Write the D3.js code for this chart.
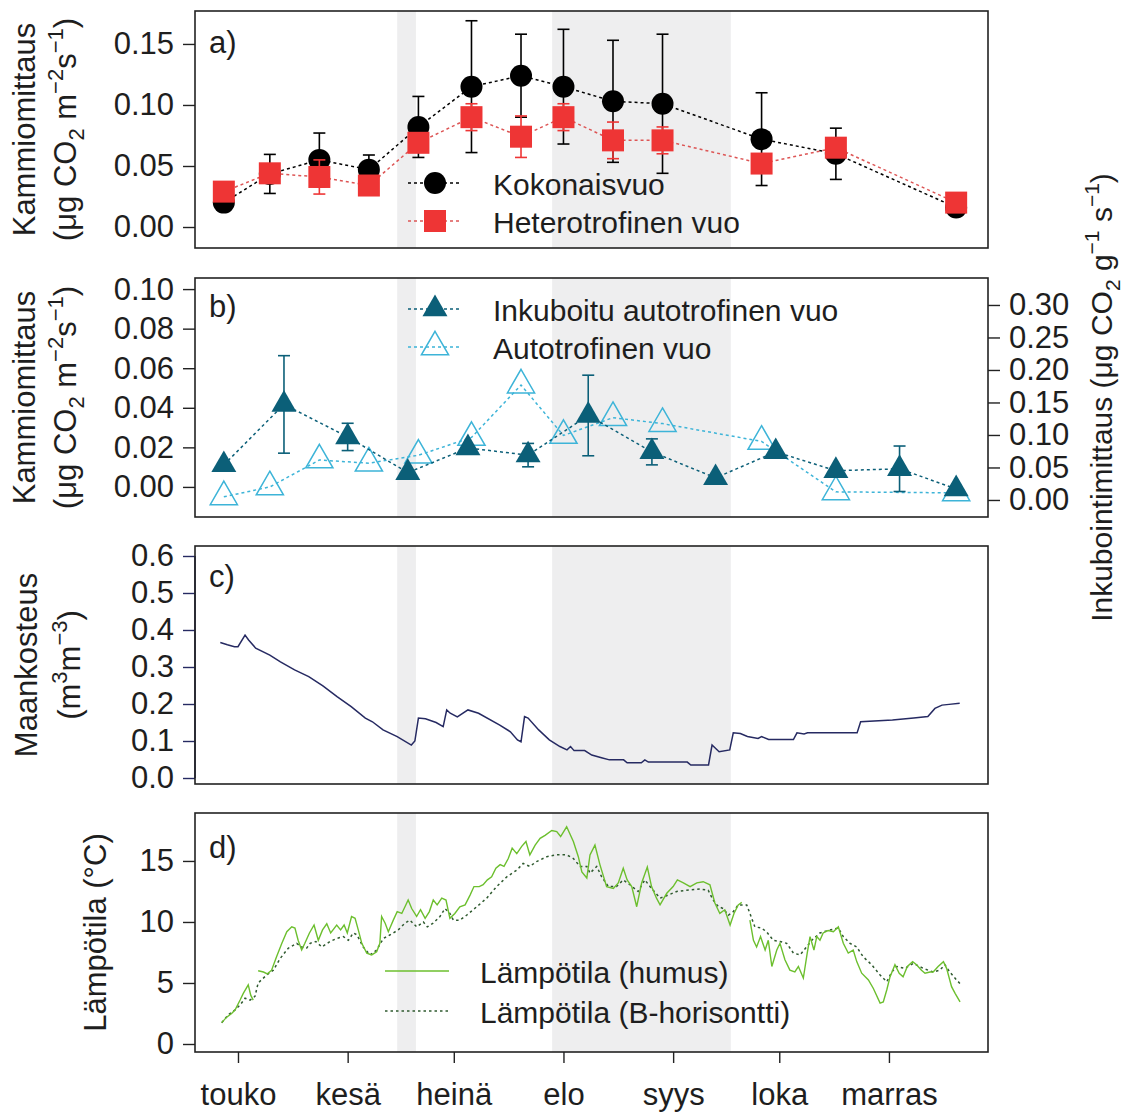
<!DOCTYPE html>
<html>
<head>
    <meta charset="utf-8">
    <title>Maaperän CO2-vuot, kosteus ja lämpötila</title>
    <script src="https://cdnjs.cloudflare.com/ajax/libs/d3/7.8.5/d3.min.js"></script>
    <style>
    body{ margin:0; background:#fff; }
    svg text{ font-family:"Liberation Sans", Arial, sans-serif; fill:#1e1e1e; }
    </style>
</head>
<body>
    <svg id="chart" width="1129" height="1113"></svg>
    <script>
        // all x values are day of year
        var monthDays = [121, 152, 182, 213, 244, 274, 305];
        var monthLabels = ["touko", "kesä", "heinä", "elo", "syys", "loka", "marras"];
        var shadeDays = [[166, 171.3], [209.8, 260.3]];

        // a) chamber fluxes
        var chamberDays = [117, 130, 144, 158, 172, 187, 201, 213, 227, 241, 269, 290, 324];
        var totalFlux = [0.020, 0.0435, 0.055, 0.047, 0.082, 0.115, 0.124, 0.115, 0.103, 0.101, 0.072, 0.060, 0.016];
        var totalErr  = [0, 0.016, 0.022, 0.012, 0.025, 0.054, 0.034, 0.047, 0.050, 0.057, 0.038, 0.021, 0];
        var hetFlux   = [0.029, 0.044, 0.041, 0.034, 0.069, 0.090, 0.074, 0.090, 0.071, 0.071, 0.052, 0.065, 0.020];
        var hetErr    = [0, 0, 0.014, 0, 0, 0.011, 0.017, 0.011, 0.015, 0.011, 0, 0, 0];

        // b) autotrophic fluxes (chamber on left axis, incubation on right axis)
        var autoFlux = [-0.005, 0.000, 0.0136, 0.012, 0.016, 0.025, 0.0515, 0.026, 0.035, 0.032, 0.023, -0.0025, -0.003];
        var incDays = [117, 134, 152, 169, 186, 203, 220, 238, 256, 273, 290, 308, 324];
        var incFlux = [0.054, 0.147, 0.097, 0.042, 0.080, 0.069, 0.130, 0.074, 0.034, 0.074, 0.045, 0.048, 0.017];
        var incErr  = [0, 0.075, 0.021, 0, 0, 0.018, 0.062, 0.020, 0, 0, 0, 0.035, 0];

        // c) soil moisture [day, m3/m3]
        var moisture = [[116,0.366],[118,0.360],[120,0.355],[121,0.355],[123,0.386],[124,0.373],[126,0.351],
            [130,0.332],[133,0.314],[137,0.292],[141,0.274],[145,0.249],[149,0.220],[153,0.193],[157,0.162],
            [159,0.152],[162,0.130],[166,0.112],[170,0.089],[171,0.100],[172,0.162],[174,0.160],[177,0.150],
            [179,0.139],[180,0.184],[181,0.175],[183,0.165],[186,0.184],[189,0.175],[195,0.143],[198,0.125],
            [200,0.103],[201,0.098],[202,0.166],[203,0.162],[206,0.130],[209,0.103],[212,0.085],[214,0.076],
            [215,0.085],[216,0.074],[219,0.074],[221,0.062],[224,0.054],[226,0.049],[230,0.049],[231,0.041],
            [235,0.041],[236,0.049],[237,0.043],[248,0.043],[249,0.035],[254,0.035],[255,0.089],[257,0.071],
            [260,0.076],[261,0.122],[263,0.120],[265,0.112],[268,0.107],[269,0.112],[271,0.104],[278,0.104],
            [279,0.122],[281,0.119],[282,0.122],[296,0.122],[297,0.152],[306,0.157],[312,0.162],[316,0.166],
            [318,0.188],[320,0.197],[322,0.199],[325,0.202]];

        // d) soil temperature [day, °C], null = gap
        var tempHumus = [[116.4,1.75],[117.8,2.2],[119.2,2.5],[120.2,2.8],[121.6,3.6],[122.5,4.15],[123.9,4.85],
            [124.6,4.0],[125.3,3.6],null,[126.7,6.0],[128.2,5.9],[129.3,5.75],[130.5,6.05],[131.9,7.15],
            [133.4,8.25],[134.8,9.2],[136.2,9.6],[137.1,9.5],[138.0,8.5],[139.0,7.7],[139.9,8.25],[141.2,9.1],
            [142.5,9.75],[143.7,8.5],[144.9,9.35],[146.1,9.85],[147.2,9.1],[148.9,9.75],[150.0,9.35],
            [151.0,9.75],[151.9,9.1],[153.1,10.45],[154.1,10.3],[155.0,9.35],[156.0,8.25],[157.4,7.45],
            [158.8,7.3],[160.2,7.55],[161.1,8.25],[161.6,10.45],[162.6,9.9],[163.5,9.2],[164.9,10.15],
            [166.0,10.85],[167.3,10.7],[168.2,11.25],[169.1,11.8],[170.1,11.1],[171.5,10.45],[172.6,11.0],
            [173.9,10.3],[175.1,10.85],[176.2,11.8],[177.3,11.4],[178.6,11.95],[179.8,11.8],[180.9,10.3],
            [182.3,10.7],[183.7,11.25],[185.2,11.4],[186.6,12.2],[187.7,12.9],[189.2,12.9],[190.3,13.05],
            [191.5,13.45],[192.7,13.7],[193.9,14.4],[195.1,14.7],[196.2,14.55],[197.4,15.2],[198.5,16.05],
            [199.8,15.6],[201.2,16.2],[202.4,16.6],[203.5,15.5],[205.0,16.3],[206.4,16.85],[207.8,17.1],
            [209.7,17.5],[211.1,17.4],[212.2,17.0],[213.9,17.8],[215.8,16.6],[217.2,15.35],[218.2,14.1],
            [219.6,13.6],[220.5,15.5],[221.9,16.3],[223.3,14.7],[225.2,12.9],[227.1,12.75],[228.5,13.2],
            [229.9,14.4],[231.0,13.45],[232.3,12.9],[233.7,11.25],[235.1,13.2],[236.7,14.5],[237.9,12.9],
            [239.3,11.95],[240.3,11.4],[242.2,12.35],[244.0,12.9],[245.2,13.45],[246.9,13.2],[248.8,12.9],
            [250.7,13.2],[252.5,13.3],[254.4,13.05],[255.8,11.55],[257.2,10.7],[258.6,11.0],[260.1,9.75],
            [261.2,10.7],[262.4,11.4],[263.4,11.6],null,[265.7,10.15],[266.7,8.5],[267.6,7.95],[268.7,8.8],
            [270.0,7.7],[270.9,8.5],[271.9,6.35],[273.3,7.7],[274.2,8.25],[275.6,6.9],[277.0,6.05],[278.4,5.9],
            [279.4,6.35],[280.8,5.4],[281.9,7.45],[282.7,8.8],[283.8,7.7],[284.6,8.8],[285.5,8.5],[286.4,9.1],
            [287.8,9.3],[289.3,9.2],[290.7,9.6],[292.1,8.25],[293.5,7.45],[294.9,7.7],[295.9,6.75],[297.3,5.8],
            [299.2,5.25],[300.6,4.55],[302.5,3.35],[303.4,3.45],[304.4,4.45],[305.3,5.5],[306.7,6.5],
            [307.9,5.8],[309.0,5.5],[310.2,6.35],[311.7,6.75],[312.8,6.5],[314.2,6.05],[315.2,5.8],[316.6,5.9],
            [317.5,5.9],[318.9,6.35],[320.4,6.75],[321.3,6.2],[322.7,4.7],[323.7,4.15],[325.1,3.45]];
        var tempB = [[116.4,1.75],[118.3,2.4],[120.2,2.8],[121.6,3.2],[123.0,3.75],[124.4,3.6],[125.8,3.9],
            [126.7,5.0],[129.1,5.65],[131.0,6.05],[132.9,7.0],[135.2,7.85],[137.6,8.25],[139.0,7.95],
            [140.4,7.85],[141.4,8.25],[143.0,8.4],[144.7,7.95],[147.0,8.4],[148.9,8.65],[150.8,8.8],[152.2,8.5],
            [153.6,9.1],[154.6,8.95],[156.4,7.95],[158.3,7.3],[160.2,7.7],[162.1,8.65],[164.0,8.95],
            [166.3,9.35],[168.2,9.9],[169.6,10.15],[171.5,9.6],[173.4,10.0],[174.5,9.6],[176.2,9.9],
            [178.1,10.45],[179.5,11.1],[180.9,10.7],[181.9,10.15],[183.7,10.15],[185.6,10.55],[188.5,11.25],
            [191.3,11.95],[194.1,12.9],[197.0,13.7],[199.8,14.25],[201.6,14.8],[203.5,14.55],[205.4,14.95],
            [208.3,15.35],[211.1,15.5],[213.9,15.5],[215.8,15.2],[217.7,14.55],[219.6,14.55],[220.5,14.0],
            [222.4,14.55],[223.8,13.7],[225.7,12.9],[228.0,12.9],[229.9,13.45],[231.8,13.05],[234.1,12.5],
            [236.0,13.45],[237.9,12.75],[240.3,11.95],[242.6,12.2],[245.0,12.5],[247.8,12.6],[251.6,12.7],
            [253.9,12.6],[255.3,11.8],[256.8,11.25],[258.2,11.1],[259.6,10.55],[261.0,10.85],[262.4,11.4],
            [264.8,11.4],[265.7,10.7],[267.1,9.6],[269.0,9.5],[270.4,9.2],[272.3,8.5],[274.2,8.4],[276.1,8.25],
            [278.0,7.45],[279.9,7.3],[281.7,7.95],[283.2,8.5],[285.5,9.1],[287.8,9.3],[290.7,9.5],[292.1,8.8],
            [294.0,8.25],[295.9,7.95],[297.7,7.15],[300.1,6.5],[302.5,5.65],[304.4,5.1],[305.8,5.9],
            [307.2,6.35],[309.5,6.2],[311.9,6.6],[314.7,6.2],[317.5,5.9],[319.4,6.05],[320.8,6.5],[322.2,5.9],
            [324.1,5.25],[325.1,4.95]];

        var col = {
            total: "#000000", het: "#ee3535", hetLine: "#dd5555",
            inc: "#0b5f78", auto: "#3db4d8",
            moist: "#262a62", humus: "#6cbf2e", bhor: "#2f5a2f",
            shade: "#eeeeef", text: "#1e1e1e"
        };

        var svg = d3.select("#chart");
        svg.append("rect").attr("width", 1129).attr("height", 1113).attr("fill", "#fff");

        var L = 195, R = 988;
        var x = d3.scaleLinear().domain([108.85, 333]).range([L, R]);

        var panels = [
            {key: "a", top: 11,  bottom: 248,  dom: [-0.0172, 0.177],  ticks: [0, 0.05, 0.10, 0.15], fmt: ".2f", labY: 42},
            {key: "b", top: 278, bottom: 517,  dom: [-0.0152, 0.1056], ticks: [0, 0.02, 0.04, 0.06, 0.08, 0.10], fmt: ".2f", labY: 39},
            {key: "c", top: 546, bottom: 784,  dom: [-0.0162, 0.627],  ticks: [0, 0.1, 0.2, 0.3, 0.4, 0.5, 0.6], fmt: ".1f", labY: 41},
            {key: "d", top: 813, bottom: 1052, dom: [-0.656, 18.93],   ticks: [0, 5, 10, 15], fmt: "d", labY: 45}
        ];
        panels.forEach(function(p){
            p.y = d3.scaleLinear().domain(p.dom).range([p.bottom, p.top]);
        });
        var yInc = d3.scaleLinear().domain([-0.0262, 0.3415]).range([517, 278]);

        // shaded periods
        panels.forEach(function(p){
            svg.selectAll(null).data(shadeDays).enter().append("rect")
                .attr("x", function(d){ return x(d[0]); })
                .attr("width", function(d){ return x(d[1]) - x(d[0]); })
                .attr("y", p.top).attr("height", p.bottom - p.top)
                .attr("fill", col.shade);
        });

        function dashedLine(g, xs, ys, yscale, color){
            var pts = xs.map(function(d, i){ return [x(d), yscale(ys[i])]; });
            g.append("path").attr("d", d3.line()(pts))
                .attr("fill", "none").attr("stroke", color)
                .attr("stroke-width", 1.5).attr("stroke-dasharray", "3,3");
        }
        function errBars(g, xs, ys, es, yscale, color){
            xs.forEach(function(d, i){
                if(!es[i]) return;
                var cx = x(d), y1 = yscale(ys[i] - es[i]), y2 = yscale(ys[i] + es[i]);
                g.append("line").attr("x1", cx).attr("x2", cx).attr("y1", y1).attr("y2", y2)
                    .attr("stroke", color).attr("stroke-width", 1.6);
                [y1, y2].forEach(function(yy){
                    g.append("line").attr("x1", cx - 6).attr("x2", cx + 6).attr("y1", yy).attr("y2", yy)
                        .attr("stroke", color).attr("stroke-width", 1.6);
                });
            });
        }

        var triFill = d3.symbol().type(d3.symbolTriangle).size(270);
        var triOpen = d3.symbol().type(d3.symbolTriangle).size(320);

        // ---- a) ----
        var pa = panels[0], ga = svg.append("g");
        dashedLine(ga, chamberDays, totalFlux, pa.y, col.total);
        errBars(ga, chamberDays, totalFlux, totalErr, pa.y, col.total);
        ga.selectAll("circle.tot").data(chamberDays).enter().append("circle")
            .attr("cx", function(d){ return x(d); })
            .attr("cy", function(d, i){ return pa.y(totalFlux[i]); })
            .attr("r", 11).attr("fill", col.total);
        dashedLine(ga, chamberDays, hetFlux, pa.y, col.hetLine);
        errBars(ga, chamberDays, hetFlux, hetErr, pa.y, col.het);
        ga.selectAll("rect.het").data(chamberDays).enter().append("rect")
            .attr("x", function(d){ return x(d) - 11; })
            .attr("y", function(d, i){ return pa.y(hetFlux[i]) - 11; })
            .attr("width", 22).attr("height", 22).attr("fill", col.het);

        // ---- b) ----
        var pb = panels[1], gb = svg.append("g");
        dashedLine(gb, chamberDays, autoFlux, pb.y, col.auto);
        gb.selectAll("path.auto").data(chamberDays).enter().append("path")
            .attr("d", triOpen)
            .attr("transform", function(d, i){ return "translate(" + x(d) + "," + pb.y(autoFlux[i]) + ")"; })
            .attr("fill", "none").attr("stroke", col.auto).attr("stroke-width", 1.5);
        dashedLine(gb, incDays, incFlux, yInc, col.inc);
        errBars(gb, incDays, incFlux, incErr, yInc, col.inc);
        gb.selectAll("path.inc").data(incDays).enter().append("path")
            .attr("d", triFill)
            .attr("transform", function(d, i){ return "translate(" + x(d) + "," + yInc(incFlux[i]) + ")"; })
            .attr("fill", col.inc);

        // ---- c) ----
        var pc = panels[2];
        svg.append("path")
            .attr("d", d3.line().x(function(d){ return x(d[0]); }).y(function(d){ return pc.y(d[1]); })(moisture))
            .attr("fill", "none").attr("stroke", col.moist).attr("stroke-width", 1.5);

        // ---- d) ----
        var pd = panels[3];
        var tline = d3.line().defined(function(d){ return d; })
            .x(function(d){ return x(d[0]); }).y(function(d){ return pd.y(d[1]); });
        svg.append("path").attr("d", tline(tempB))
            .attr("fill", "none").attr("stroke", col.bhor).attr("stroke-width", 1.5)
            .attr("stroke-dasharray", "2.5,3");
        svg.append("path").attr("d", tline(tempHumus))
            .attr("fill", "none").attr("stroke", col.humus).attr("stroke-width", 1.4);

        // boxes, axes, panel labels
        panels.forEach(function(p){
            var axisCol = p.key === "c" ? col.moist : "#222";
            var ax = svg.append("g").attr("transform", "translate(" + L + ",0)")
                .call(d3.axisLeft(p.y).tickValues(p.ticks).tickFormat(d3.format(p.fmt))
                    .tickSize(12).tickPadding(9));
            ax.select(".domain").remove();
            ax.selectAll("line").attr("stroke", axisCol).attr("stroke-width", 1.4);
            ax.selectAll("text").attr("font-size", 31).attr("fill", col.text)
                .style("font-family", "'Liberation Sans', Arial, sans-serif");
            if(p.key === "c"){
                svg.append("line").attr("x1", L).attr("x2", L)
                    .attr("y1", p.y(0)).attr("y2", p.y(0.6))
                    .attr("stroke", axisCol).attr("stroke-width", 1.6);
            }
            svg.append("rect").attr("x", L).attr("y", p.top)
                .attr("width", R - L).attr("height", p.bottom - p.top)
                .attr("fill", "none").attr("stroke", "#222").attr("stroke-width", 1.6);
            svg.append("text").attr("x", 209).attr("y", p.top + p.labY)
                .attr("font-size", 31).text(p.key + ")");
        });

        // right axis for incubation
        var axr = svg.append("g").attr("transform", "translate(" + R + ",0)")
            .call(d3.axisRight(yInc).tickValues([0, 0.05, 0.10, 0.15, 0.20, 0.25, 0.30])
                .tickFormat(d3.format(".2f")).tickSize(12).tickPadding(9));
        axr.select(".domain").remove();
        axr.selectAll("line").attr("stroke", "#222").attr("stroke-width", 1.4);
        axr.selectAll("text").attr("font-size", 31).attr("fill", col.text)
            .style("font-family", "'Liberation Sans', Arial, sans-serif");

        // x axis
        var axb = svg.append("g").attr("transform", "translate(0," + pd.bottom + ")")
            .call(d3.axisBottom(x).tickValues(monthDays)
                .tickFormat(function(d, i){ return monthLabels[i]; })
                .tickSize(11).tickPadding(20));
        axb.select(".domain").remove();
        axb.selectAll("line").attr("stroke", "#222").attr("stroke-width", 1.4);
        axb.selectAll("text").attr("font-size", 31).attr("fill", col.text)
            .style("font-family", "'Liberation Sans', Arial, sans-serif");

        // axis titles
        function rotTitle(xb, yc, parts, size){
            var fs = size || 31;
            var t = svg.append("text")
                .attr("transform", "translate(" + xb + "," + yc + ") rotate(-90)")
                .attr("text-anchor", "middle").attr("font-size", fs);
            var shift = 0;
            parts.forEach(function(pt){
                var s = t.append("tspan").text(pt.t);
                var target = pt.sub ? 8 : (pt.sup ? -13 : 0);
                if(target !== shift){ s.attr("dy", target - shift); shift = target; }
                if(pt.sub || pt.sup) s.attr("font-size", Math.round(fs * 0.71));
            });
        }
        var fluxUnit = [{t: "(μg CO"}, {t: "2", sub: 1}, {t: " m"}, {t: "−2", sup: 1}, {t: "s"}, {t: "−1", sup: 1}, {t: ")"}];
        [panels[0], panels[1]].forEach(function(p){
            var yc = (p.top + p.bottom) / 2;
            rotTitle(35, yc, [{t: "Kammiomittaus"}]);
            rotTitle(76, yc, fluxUnit);
        });
        rotTitle(37, (pc.top + pc.bottom) / 2, [{t: "Maankosteus"}]);
        rotTitle(80, (pc.top + pc.bottom) / 2, [{t: "(m"}, {t: "3", sup: 1}, {t: "m"}, {t: "−3", sup: 1}, {t: ")"}]);
        rotTitle(106, (pd.top + pd.bottom) / 2, [{t: "Lämpötila (°C)"}]);
        rotTitle(1112, (pb.top + pb.bottom) / 2,
            [{t: "Inkubointimittaus (μg CO"}, {t: "2", sub: 1}, {t: " g"}, {t: "−1", sup: 1}, {t: " s"}, {t: "−1", sup: 1}, {t: ")"}], 30);

        // legends
        var legA = [
            {label: "Kokonaisvuo", y: 183, color: col.total, shape: "circle", line: col.total},
            {label: "Heterotrofinen vuo", y: 221, color: col.het, shape: "square", line: col.hetLine}
        ];
        var legB = [
            {label: "Inkuboitu autotrofinen vuo", y: 309, color: col.inc, shape: "tri", line: col.inc},
            {label: "Autotrofinen vuo", y: 347, color: col.auto, shape: "open", line: col.auto}
        ];
        legA.concat(legB).forEach(function(d){
            svg.append("line").attr("x1", 408).attr("x2", 462).attr("y1", d.y).attr("y2", d.y)
                .attr("stroke", d.line).attr("stroke-width", 1.5).attr("stroke-dasharray", "3,3");
            if(d.shape === "circle"){
                svg.append("circle").attr("cx", 435).attr("cy", d.y).attr("r", 11).attr("fill", d.color);
            } else if(d.shape === "square"){
                svg.append("rect").attr("x", 424).attr("y", d.y - 11).attr("width", 22).attr("height", 22).attr("fill", d.color);
            } else if(d.shape === "tri"){
                svg.append("path").attr("d", triFill).attr("transform", "translate(435," + d.y + ")").attr("fill", d.color);
            } else {
                svg.append("path").attr("d", triOpen).attr("transform", "translate(435," + d.y + ")")
                    .attr("fill", "none").attr("stroke", d.color).attr("stroke-width", 1.5);
            }
            svg.append("text").attr("x", 493).attr("y", d.y + 12).attr("font-size", 30).text(d.label);
        });
        var legD = [
            {label: "Lämpötila (humus)", y: 971, color: col.humus, dash: null},
            {label: "Lämpötila (B-horisontti)", y: 1011, color: col.bhor, dash: "2.5,3"}
        ];
        legD.forEach(function(d){
            svg.append("line").attr("x1", 385).attr("x2", 449).attr("y1", d.y).attr("y2", d.y)
                .attr("stroke", d.color).attr("stroke-width", 1.5).attr("stroke-dasharray", d.dash);
            svg.append("text").attr("x", 480).attr("y", d.y + 12).attr("font-size", 30).text(d.label);
        });
    </script>
</body>
</html>
